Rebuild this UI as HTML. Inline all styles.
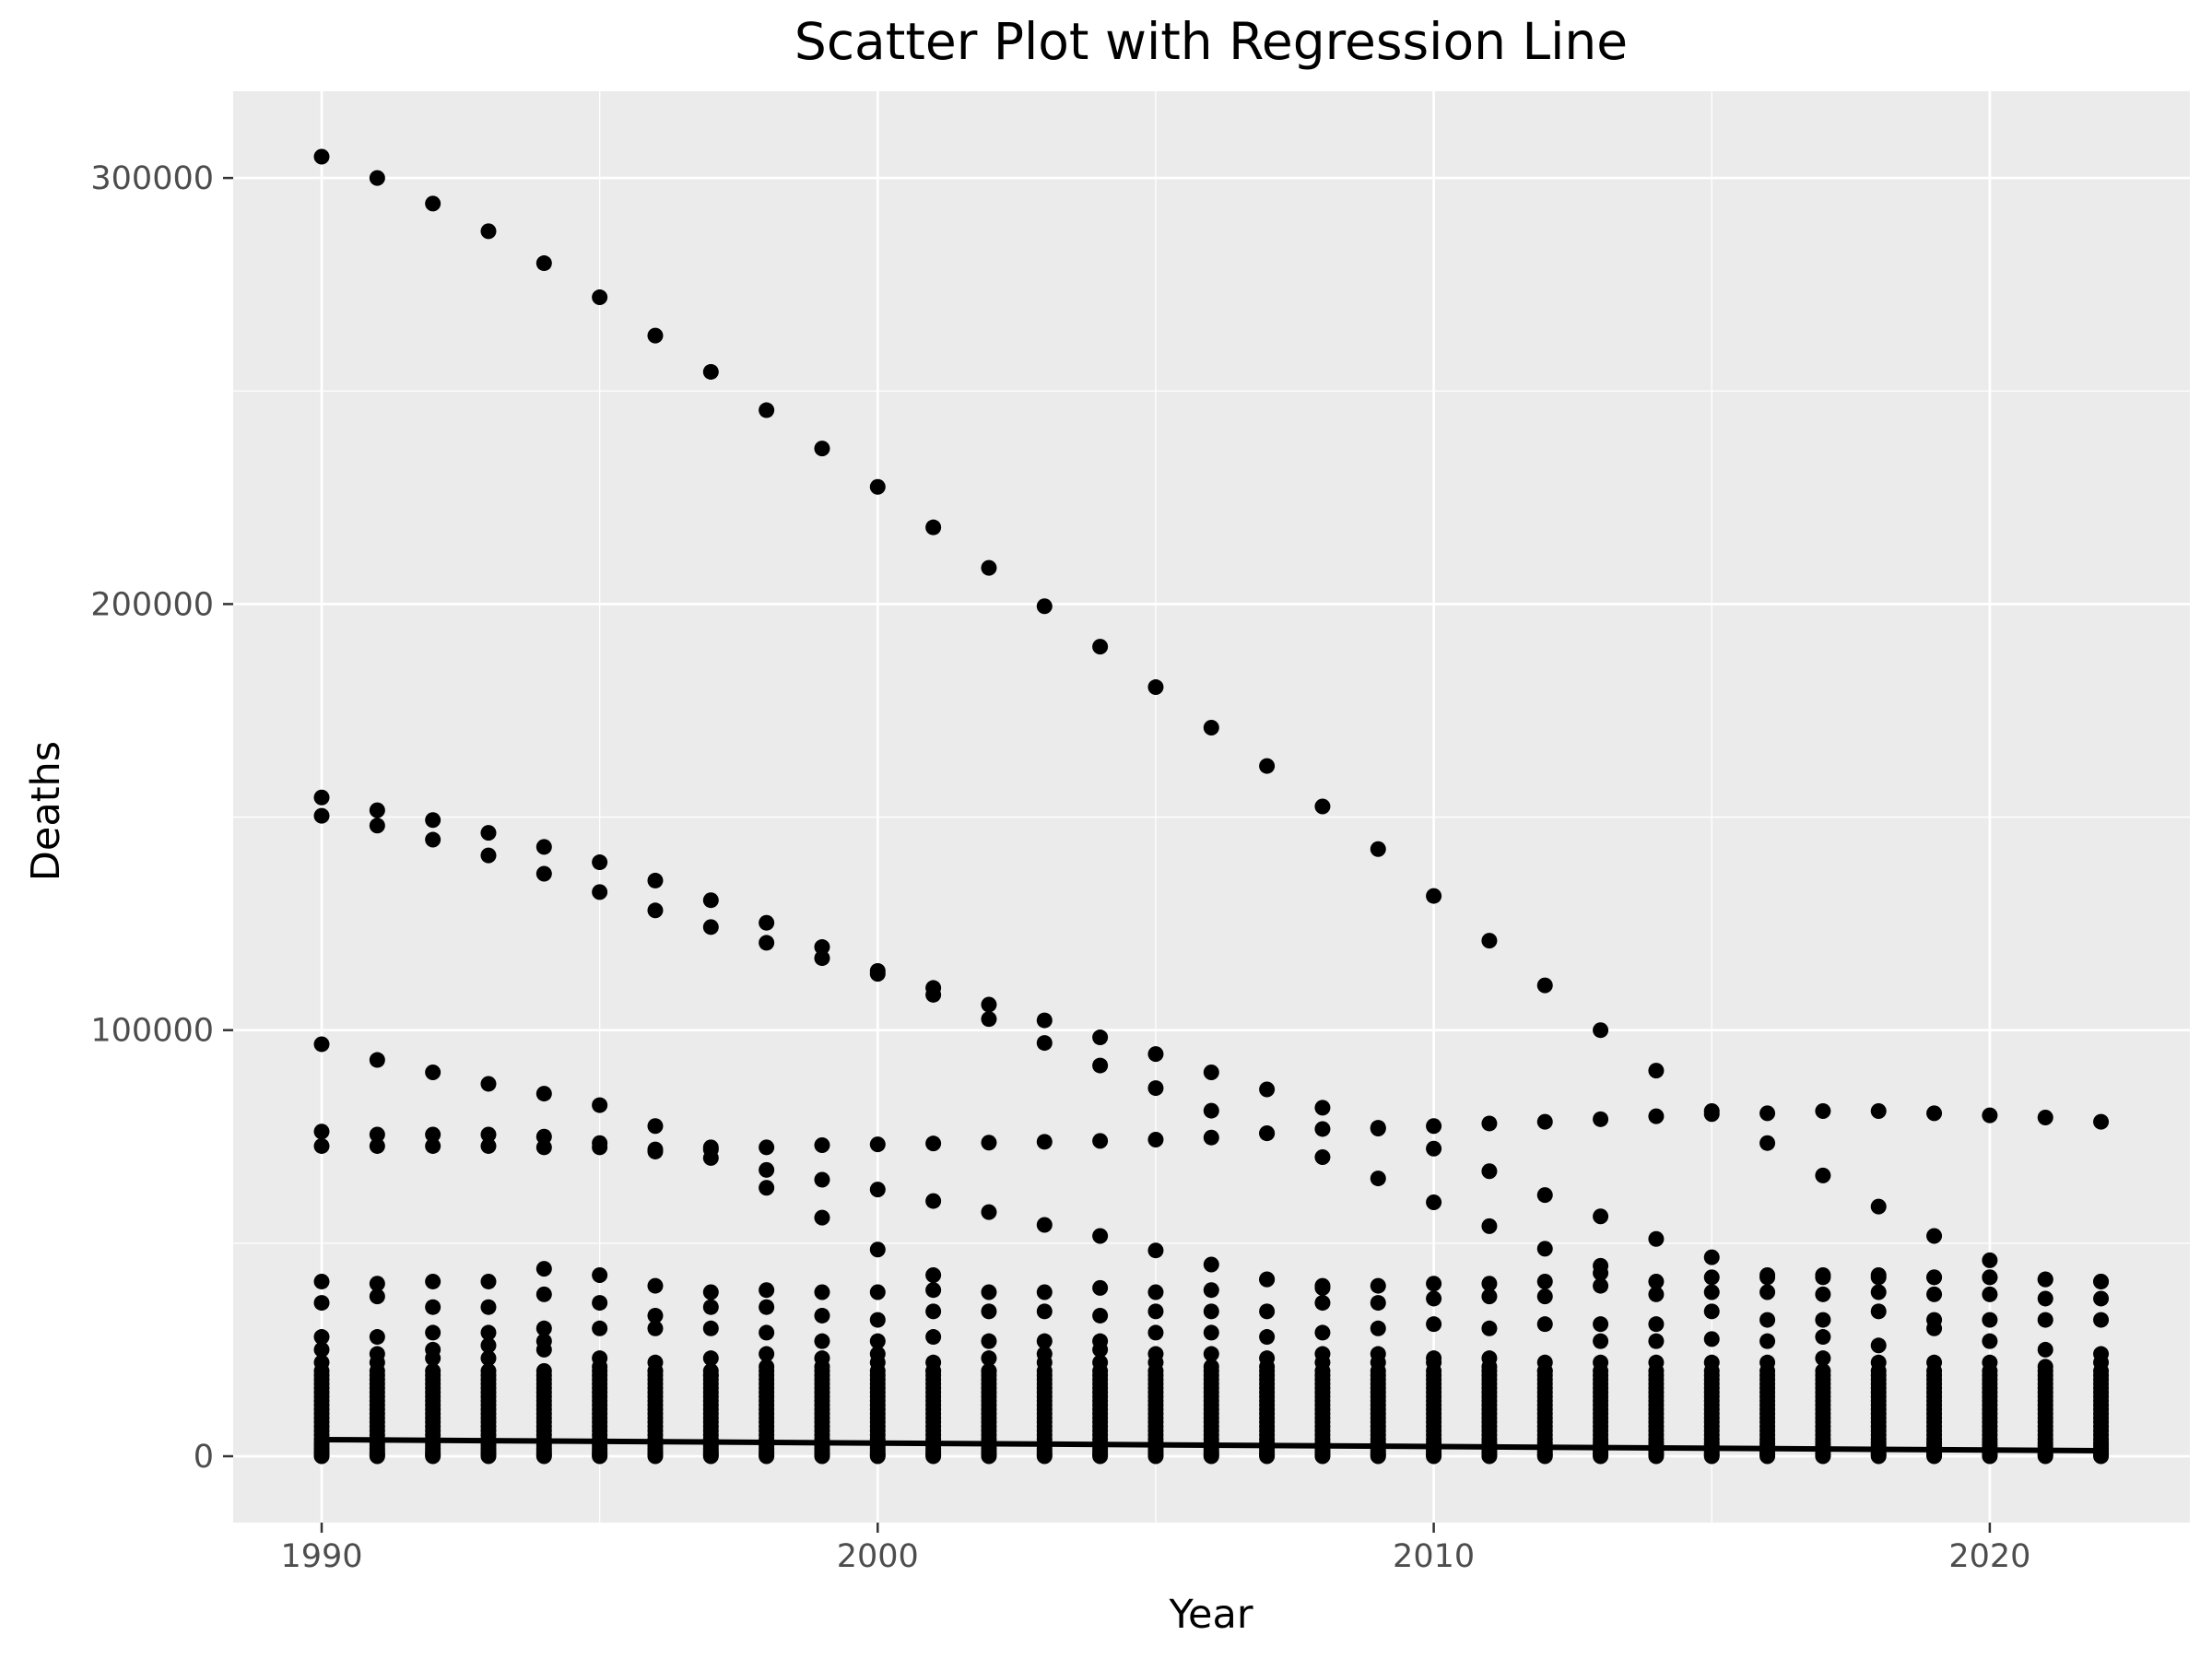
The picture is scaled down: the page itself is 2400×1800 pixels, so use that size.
<!DOCTYPE html>
<html><head><meta charset="utf-8">
<style>
html,body{margin:0;padding:0;background:#fff;}
svg{display:block;font-family:"DejaVu Sans","Liberation Sans",sans-serif;}
</style></head>
<body>
<svg id="chart" width="2400" height="1800" viewBox="0 0 2400 1800">
  <text x="1314" y="64" font-size="55" text-anchor="middle" fill="#000">Scatter Plot with Regression Line</text>
  <rect x="253" y="99" width="2123" height="1553" fill="#ebebeb"/>
  <g id="grid"></g>
  <g id="points"></g>
  <g id="reg"></g>
  <g id="axes"></g>
  <text x="1314" y="1766" font-size="43" text-anchor="middle" fill="#000">Year</text>
  <text x="0" y="0" font-size="43" text-anchor="middle" fill="#000" transform="translate(64,880) rotate(-90)">Deaths</text>
</svg>
<script>
const years = [1990,1991,1992,1993,1994,1995,1996,1997,1998,1999,2000,2001,2002,2003,2004,2005,2006,2007,2008,2009,2010,2011,2012,2013,2014,2015,2016,2017,2018,2019,2020,2021,2022];
const seriesTop = [305000,300000,294000,287500,280000,272000,263000,254500,245500,236500,227500,218000,208500,199500,190000,180500,171000,162000,152500,142500,131500,121000,110500,100000,90500,81000,80500,81000,81000,80500,80000,79500,78500];
const seriesA = [154600,151600,149300,146300,143000,139400,135100,130500,125200,119500,113900,109900,106000,102300,98300,94400,90100,86100,81800,77100,77500,78100,78500,79100,79800,80300,73500,65900,58600,51700,46000,null,null];
const seriesB = [150300,148000,144700,141000,136700,132400,128100,124200,120500,116900,113200,108300,102600,97000,91700,86400,81100,75800,70200,65200,59600,54000,48700,44700,null,null,null,null,null,null,null,null,null];
const seriesC = [96700,93000,90100,87400,85100,82400,77500,72500,67200,64900,62600,59900,57300,54300,51700,48300,45000,41500,39500,null,72200,66900,61300,56300,51000,46700,42000,42000,42000,42000,42000,41500,41000];
const seriesD = [76200,75500,75500,75500,75000,73500,72000,72000,72500,73000,73200,73400,73600,73800,74000,74300,74800,75800,76800,76900,null,null,null,null,null,null,null,null,null,null,null,null,null];
const seriesE = [72800,72800,72800,72800,72500,72500,71500,70000,63000,56000,48500,42500,null,null,null,null,null,null,null,null,null,null,null,null,null,null,null,null,null,null,null,null,null];
const clusterLow = [0,300,700,1200,1800,2500,3200,4000,5000,6000,7000,8000,9000,10000,11000,12000,13000,14000,15000,16000,17000,18000,19000,20000];
const upperA = [41000,40500,41000,41000,44000,42500,40000,38500,39000,38500,38500,39000,38500,38500,39500,38500,39000,41500,40000,40000,40500,40500,41000,43000,41000,42000,42500,42500,42500,42000,42000,41500,41000];
const upperB = [36000,37500,35000,35000,38000,36000,33000,35000,35000,33000,32000,34000,34000,34000,33000,34000,34000,34000,36000,36000,37000,37500,37500,40000,38000,38500,38500,38000,38500,38000,38000,37000,37000];
const upperC = [28000,28000,29000,29000,30000,30000,30000,30000,29000,27000,27000,28000,27000,27000,27000,29000,29000,28000,29000,30000,31000,30000,31000,31000,31000,34000,32000,32000,34000,32000,32000,32000,32000];
const upperD = [22000,22000,23000,23000,25000,21000,20000,19000,24000,21000,22000,20000,20000,22000,22000,24000,24000,21000,22000,22000,22000,21000,20000,27000,27000,27500,27000,28000,26000,30000,27000,25000,24000];
const upperE = [25000,24000,25000,26000,27000,23000,22000,23000,21000,23000,24000,22000,23000,24000,25000,22000,21000,23000,24000,24000,23000,23000,22000,22000,22000,22000,22000,23000,22000,22000,22000,21000,22000];
const regStart = [1990, 3900];
const regEnd = [2022, 1300];
const xTicks = [1990,2000,2010,2020];
const xMinor = [1995,2005,2015];
const yTicks = [0,100000,200000,300000];
const yTickLabels = ["0","100000","200000","300000"];
const yMinor = [50000,150000,250000];

const NS="http://www.w3.org/2000/svg";
const X0=1990, PX0=349, PXY=60.33;
const PY0=1580, PYV=462.3/100000;
const sx=v=>PX0+(v-X0)*PXY;
const sy=v=>PY0-v*PYV;
function mk(tag,attrs,parent){const e=document.createElementNS(NS,tag);for(const k in attrs)e.setAttribute(k,attrs[k]);parent.appendChild(e);return e;}
const grid=document.getElementById('grid');
yMinor.forEach(v=>{const l=mk('line',{x1:253,x2:2376,y1:sy(v),y2:sy(v),stroke:'#fff','stroke-width':1.3},grid);

});
xMinor.forEach(v=>{const l=mk('line',{x1:sx(v),x2:sx(v),y1:99,y2:1652,stroke:'#fff','stroke-width':1.3},grid);

});
yTicks.forEach(v=>{const l=mk('line',{x1:253,x2:2376,y1:sy(v),y2:sy(v),stroke:'#fff','stroke-width':2.7},grid);

});
xTicks.forEach(v=>{const l=mk('line',{x1:sx(v),x2:sx(v),y1:99,y2:1652,stroke:'#fff','stroke-width':2.7},grid);

});

const pts=document.getElementById('points');
function dot(yr,v){if(v===null||v===undefined)return;const c=mk('circle',{cx:sx(yr),cy:sy(v),r:8.5,fill:'#000'},pts);

}
years.forEach((yr,i)=>{
  [seriesTop,seriesA,seriesB,seriesC,seriesD,seriesE,upperA,upperB,upperC,upperD,upperE].forEach(s=>dot(yr,s[i]));
  clusterLow.forEach(v=>dot(yr,v));
});
const reg=document.getElementById('reg');
const rl=mk('line',{x1:sx(regStart[0]),y1:sy(regStart[1]),x2:sx(regEnd[0]),y2:sy(regEnd[1]),stroke:'#000','stroke-width':6},reg);



const ax=document.getElementById('axes');
yTicks.forEach((v,i)=>{
  const t=mk('line',{x1:242,x2:253,y1:sy(v),y2:sy(v),stroke:'#333','stroke-width':2.5},ax);
  
  
  const tx=mk('text',{x:232,y:sy(v)+12,'font-size':35,'text-anchor':'end',fill:'#4d4d4d'},ax);
  tx.textContent=yTickLabels[i];
  
  
});
xTicks.forEach(v=>{
  const t=mk('line',{x1:sx(v),x2:sx(v),y1:1652,y2:1663,stroke:'#333','stroke-width':2.5},ax);
  
  
  const tx=mk('text',{x:sx(v),y:1700,'font-size':35,'text-anchor':'middle',fill:'#4d4d4d'},ax);
  tx.textContent=String(v);
  
  
});
</script>
</body></html>
